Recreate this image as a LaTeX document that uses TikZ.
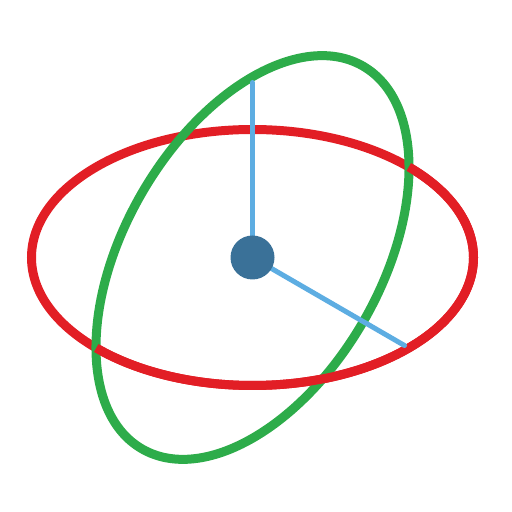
\documentclass[tikz,border=0pt]{standalone}
\definecolor{ringred}{RGB}{226,30,37}
\definecolor{ringgreen}{RGB}{45,172,74}
\definecolor{axisblue}{RGB}{93,173,226}
\definecolor{hubblue}{RGB}{58,113,152}
\tikzset{
  ring/.style={line width=4.5pt},
  axisline/.style={line width=2.5pt, axisblue, line cap=round},
  hub/.style={circle, fill=hubblue, minimum size=22pt, inner sep=0pt}
}
\begin{document}
\begin{tikzpicture}
\useasboundingbox (-126.25pt,-127.25pt) rectangle (129.75pt,128.75pt);
\coordinate (o) at (0,0);
\draw[ring, ringred] (o) ellipse [x radius=110.5pt, y radius=64pt];
\draw[ring, ringgreen, rotate=60] (o) ellipse [x radius=110.5pt, y radius=64pt];
\draw[ring, ringred] (-135:110.5pt and 64pt) arc [start angle=-135, end angle=45, x radius=110.5pt, y radius=64pt];
\coordinate (top) at (0pt,87.5pt);
\coordinate (side) at (76pt,-44pt);
\draw[axisline] (o) -- (top);
\draw[axisline] (o) -- (side);
\node[hub] (c) at (o) {};
\end{tikzpicture}
\end{document}
